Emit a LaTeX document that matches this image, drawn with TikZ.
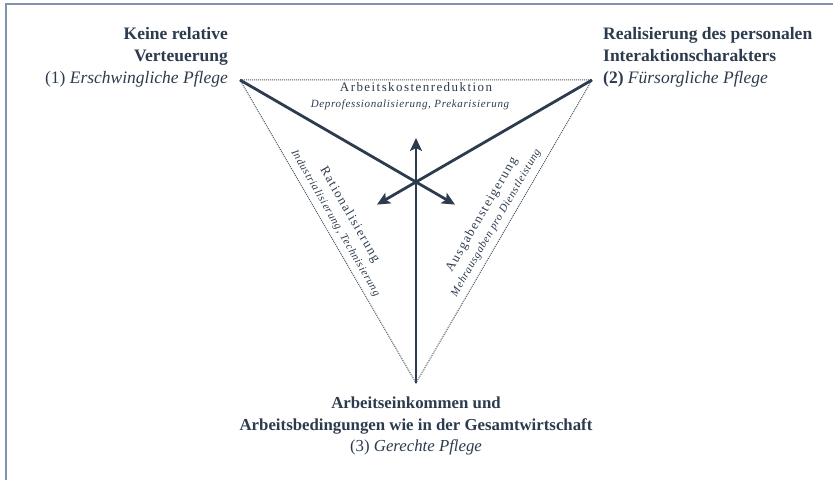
\documentclass[tikz,border=0pt]{standalone}
\usepackage{fontspec}
\setmainfont{Liberation Serif}
\newfontfamily\spacedrm[LetterSpace=11]{Liberation Serif}
\newfontfamily\spacedit[LetterSpace=6]{Liberation Serif Italic}
\usetikzlibrary{arrows.meta,calc}
\definecolor{ink}{HTML}{2C3B4D}
\definecolor{framec}{HTML}{7F93AD}
\tikzset{
  vlabel/.style={inner sep=0pt, text=ink, font=\fontsize{17.5}{22}\selectfont},
  mainlab/.style={inner sep=0pt, text=ink, font=\fontsize{13}{15}\spacedrm},
  sublab/.style={inner sep=0pt, text=ink, font=\fontsize{11}{13}\spacedit},
  thickarrow/.style={draw=ink, line width=2.8pt, -{Stealth[length=13pt,width=12pt,inset=3pt]}},
  edge/.style={draw=ink!85, line width=1pt, densely dotted},
  framel/.style={draw=framec, line width=1.4pt}
}
\begin{document}
\begin{tikzpicture}[x=1pt,y=1pt]
\useasboundingbox (0,0) rectangle (833,486);
% frame
\coordinate (fa) at (6,6);
\coordinate (fb) at (6,482);
\coordinate (fc) at (833,482);
\draw[framel] (fa) -- (fb) -- (fc);
% vertices
\coordinate (v1) at (240,406);
\coordinate (v2) at (592,406);
\coordinate (v3) at (416,103);
\coordinate (c) at (416,304);
\coordinate (tu) at (416,348);
\coordinate (tr) at (455,281.4);
\coordinate (tl) at (377,281.4);
% dotted triangle
\draw[edge] (v1) -- (v2) -- (v3) -- cycle;
% arrows
\draw[thickarrow] (v3) -- (tu);
\draw[thickarrow] (v1) -- (tr);
\draw[thickarrow] (v2) -- (tl);
% vertex labels
\node[vlabel, anchor=north east, align=right] (n1) at (228,459)
  {\textbf{Keine relative}\\ \textbf{Verteuerung}\\ (1) \textit{Erschwingliche Pflege}};
\node[vlabel, anchor=north west, align=left] (n2) at (603,459)
  {\textbf{Realisierung des personalen}\\ \textbf{Interaktionscharakters}\\ \textbf{(2)} \textit{Fürsorgliche Pflege}};
\node[vlabel, anchor=north, align=center, font=\fontsize{16.8}{21.5}\selectfont] (n3) at (416,89)
  {\textbf{Arbeitseinkommen und}\\ \textbf{Arbeitsbedingungen wie in der Gesamtwirtschaft}\\ (3) \textit{Gerechte Pflege}};
% top inner labels
\node[mainlab, anchor=base] (t1) at (416,394) {Arbeitskostenreduktion};
\node[sublab, anchor=base] (t2) at (410,378) {Deprofessionalisierung, Prekarisierung};
% left side labels
\coordinate (ml) at ($(v1)!0.49!(v3)$);
\node[mainlab, rotate=-59.93] (l1) at ($(ml)!27pt!90:(v3)$) {Rationalisierung};
\node[sublab, rotate=-59.93] (l2) at ($(ml)!10.5pt!90:(v3)$) {Industrialisierung, Technisierung};
% right side labels
\coordinate (mr) at ($(v2)!0.49!(v3)$);
\node[mainlab, rotate=59.93] (r1) at ($(mr)!27.5pt!-90:(v3)$) {Ausgabensteigerung};
\node[sublab, rotate=59.93] (r2) at ($(mr)!11pt!-90:(v3)$) {Mehrausgaben pro Dienstleistung};
\end{tikzpicture}
\end{document}
